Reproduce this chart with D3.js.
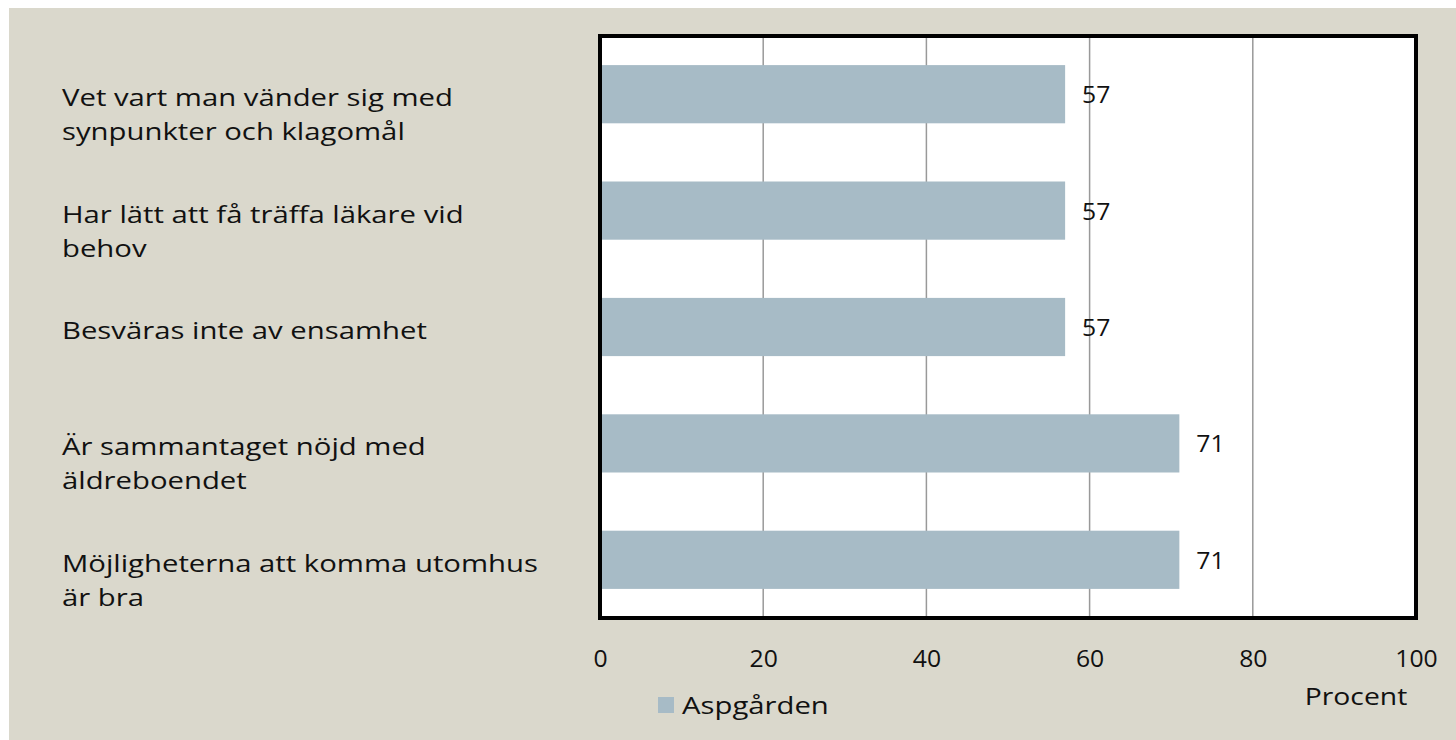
<!DOCTYPE html>
<html>
<head>
<meta charset="utf-8">
<script src="https://cdn.jsdelivr.net/npm/d3@7"></script>
<style>
  body { margin: 0; background: #fff; }
  text { font-family: "Open Sans", "Lato", sans-serif; fill: #111; }
</style>
</head>
<body>
<div id="chart"></div>
<script>
// Data
const categories = [
	["Vet vart man vänder sig med", "synpunkter och klagomål"],
	["Har lätt att få träffa läkare vid", "behov"],
	["Besväras inte av ensamhet"],
	["Är sammantaget nöjd med", "äldreboendet"],
	["Möjligheterna att komma utomhus", "är bra"]
]
const values = [57, 57, 57, 71, 71]
const ticks = [0, 20, 40, 60, 80, 100]
const seriesName = "Aspgården"
const axisTitle = "Procent"

const dims = {
	width: 1456,
	height: 740,
	margin: { top: 36, bottom: 122, left: 600, right: 40 }
}

// widen text a bit, the original font is much wider than what we have
function widen(sel, k) {
	sel.each(function () {
		const w = this.getComputedTextLength()
		this.setAttribute("textLength", w * k)
		this.setAttribute("lengthAdjust", "spacingAndGlyphs")
	})
}

const svg = d3.select("#chart")
	.append("svg")
	.attr("width", dims.width)
	.attr("height", dims.height)

// beige background panel
svg.append("rect")
	.attr("x", 9).attr("y", 8)
	.attr("width", dims.width - 9).attr("height", dims.height - 8)
	.attr("fill", "#dad8cc")

const plotW = 1416 - dims.margin.left
const plotH = 618 - dims.margin.top

const container = svg.append("g")
	.attr("transform", `translate(${dims.margin.left},${dims.margin.top})`)

const xScale = d3.scaleLinear().domain([0, 100]).range([0, plotW])
const yScale = d3.scaleBand()
	.domain(d3.range(categories.length))
	.range([0, plotH])
	.paddingInner(0.5)
	.paddingOuter(0.25)

// plot area
container.append("rect")
	.attr("width", plotW).attr("height", plotH)
	.attr("fill", "#fff")

// gridlines
container.append("g").selectAll("line")
	.data(ticks.slice(1, -1))
	.join("line")
	.attr("x1", d => xScale(d)).attr("x2", d => xScale(d))
	.attr("y1", 0).attr("y2", plotH)
	.attr("stroke", "#999").attr("stroke-width", 1.5)

// bars
container.append("g").selectAll("rect")
	.data(values)
	.join("rect")
	.attr("x", xScale(0))
	.attr("y", (d, i) => yScale(i))
	.attr("width", d => xScale(d))
	.attr("height", yScale.bandwidth())
	.attr("fill", "#a7bbc6")

// value labels
const valueLabels = container.append("g").selectAll("text")
	.data(values)
	.join("text")
	.attr("x", d => xScale(d) + 17)
	.attr("y", (d, i) => yScale(i) + yScale.bandwidth() / 2 + 9)
	.attr("font-size", "24px")
	.text(d => d)
widen(valueLabels, 1.03)

// border
container.append("rect")
	.attr("width", plotW).attr("height", plotH)
	.attr("fill", "none")
	.attr("stroke", "#000").attr("stroke-width", 4)

// x axis labels
const xAxis = d3.axisBottom(xScale).tickValues(ticks).tickSize(0).tickPadding(32)
const xg = container.append("g")
	.attr("transform", `translate(0,${plotH})`)
	.call(xAxis)
xg.select(".domain").remove()
xg.selectAll("text")
	.attr("font-size", "24px")
	.attr("font-family", "'Open Sans', sans-serif")
	.attr("fill", "#111")
widen(xg.selectAll("text"), 1.03)

const title = container.append("text")
	.attr("x", xScale(100) - 60)
	.attr("y", plotH + 87)
	.attr("text-anchor", "middle")
	.attr("font-size", "24px")
	.text(axisTitle)
widen(title, 1.18)

// category labels
const labels = svg.append("g").selectAll("text")
	.data(categories)
	.join("text")
	.attr("x", 62)
	.attr("font-size", "24px")
labels.each(function (lines, i) {
	const cy = dims.margin.top + yScale(i) + yScale.bandwidth() / 2
	d3.select(this).selectAll("tspan")
		.data(lines)
		.join("tspan")
		.attr("x", 62)
		.attr("y", (d, j) => cy + 12 + j * 34)
		.text(d => d)
})
widen(labels.selectAll("tspan"), 1.22)

// legend
const legend = svg.append("g").attr("transform", "translate(658,697)")
legend.append("rect")
	.attr("width", 16).attr("height", 16)
	.attr("fill", "#a7bbc6")
const legendText = legend.append("text")
	.attr("x", 24).attr("y", 17)
	.attr("font-size", "24px")
	.text(seriesName)
widen(legendText, 1.22)
</script>
</body>
</html>
